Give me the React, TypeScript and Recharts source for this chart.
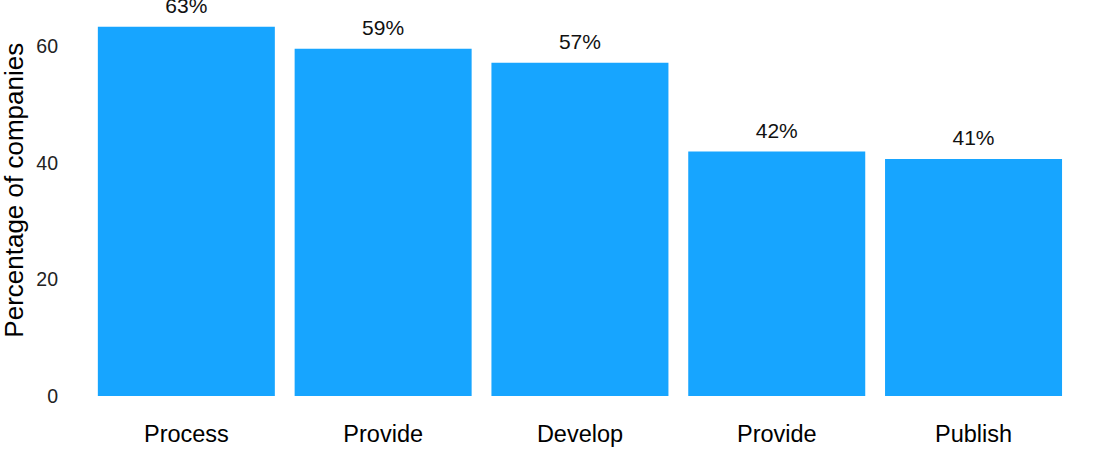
import { BarChart, Bar, XAxis, YAxis, LabelList } from 'recharts';

const categories = ['Process', 'Provide', 'Develop', 'Provide ', 'Publish'];
const shares = [63.3, 59.5, 57.1, 41.9, 40.6];
const shareLabels = ['63%', '59%', '57%', '42%', '41%'];
const yTicks = [0, 20, 40, 60];

const data = categories.map((name, i) => ({ name, value: shares[i], label: shareLabels[i] }));

const FONT = '"Liberation Sans", Arial, Helvetica, sans-serif';
const BLUE = '#17a5ff';

function XTick({ x, y, payload }: any) {
  return (
    <text x={x} y={y} dy={27.5} textAnchor="middle" fontFamily={FONT} fontSize={23.5} fill="#000">
      {String(payload.value).trim()}
    </text>
  );
}

function YTick({ y, payload }: any) {
  return (
    <text x={58} y={y} dy={7} textAnchor="end" fontFamily={FONT} fontSize={19.5} fill="#222">
      {payload.value}
    </text>
  );
}

function BarLabel({ x, y, width, value }: any) {
  return (
    <text x={x + width / 2} y={y - 14} textAnchor="middle" fontFamily={FONT} fontSize={21} fill="#111">
      {value}
    </text>
  );
}

function YTitle({ viewBox }: any) {
  const cy = viewBox.y + viewBox.height / 2 - 21;
  return (
    <text
      x={23}
      y={cy}
      transform={`rotate(-90, 23, ${cy})`}
      textAnchor="middle"
      fontFamily={FONT}
      fontSize={26}
      fill="#000"
    >
      Percentage of companies
    </text>
  );
}

export default function App() {
  return (
    <div style={{ position: 'absolute', left: 0, top: 0, width: 1110, height: 452, background: '#fff' }}>
      <BarChart
        width={1110}
        height={452}
        data={data}
        margin={{ top: 8, right: 38, bottom: 0, left: 0 }}
        barCategoryGap="5%"
      >
        <XAxis
          dataKey="name"
          axisLine={false}
          tickLine={false}
          tickSize={0}
          tickMargin={0}
          height={37.5}
          interval={0}
          tick={<XTick />}
        />
        <YAxis
          type="number"
          domain={[-3.17, 66.5]}
          ticks={yTicks}
          axisLine={false}
          tickLine={false}
          width={88}
          tick={<YTick />}
          label={{ content: (p: any) => <YTitle {...p} /> }}
        />
        <Bar dataKey="value" fill={BLUE} isAnimationActive={false}>
          <LabelList dataKey="label" content={(p: any) => <BarLabel {...p} />} />
        </Bar>
      </BarChart>
    </div>
  );
}
